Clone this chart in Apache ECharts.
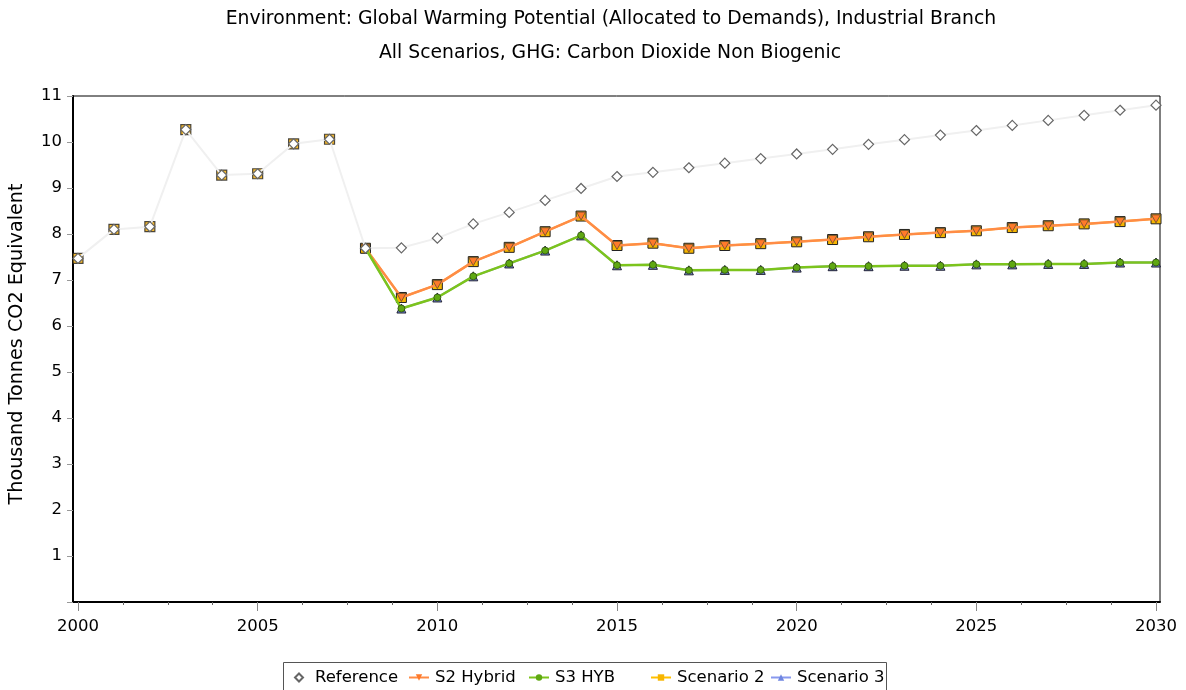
<!DOCTYPE html>
<html>
<head>
<meta charset="utf-8">
<script src="https://cdn.jsdelivr.net/npm/echarts@6/dist/echarts.min.js"></script>
<style>
html,body{margin:0;padding:0;background:#fff;}
#chart{width:1186px;height:690px;}
</style>
</head>
<body>
<div id="chart"></div>
<script>
var years = [2000,2001,2002,2003,2004,2005,2006,2007,2008,2009,2010,2011,2012,2013,2014,2015,2016,2017,2018,2019,2020,2021,2022,2023,2024,2025,2026,2027,2028,2029,2030];
var reference = [7.47,8.10,8.16,10.27,9.28,9.31,9.96,10.06,7.69,7.70,7.91,8.22,8.47,8.73,8.99,9.25,9.34,9.44,9.54,9.64,9.74,9.84,9.95,10.05,10.15,10.25,10.36,10.47,10.58,10.69,10.80];
// scenario series start in 2008
var scenYears = [2008,2009,2010,2011,2012,2013,2014,2015,2016,2017,2018,2019,2020,2021,2022,2023,2024,2025,2026,2027,2028,2029,2030];
var s2Hybrid = [7.69,6.62,6.90,7.40,7.71,8.05,8.39,7.75,7.80,7.69,7.75,7.79,7.83,7.88,7.94,7.99,8.03,8.07,8.14,8.18,8.22,8.27,8.33];
var s3Hyb = [7.69,6.38,6.62,7.08,7.36,7.64,7.97,7.32,7.33,7.21,7.22,7.22,7.27,7.30,7.30,7.31,7.31,7.34,7.34,7.35,7.35,7.38,7.38];
var scenario2 = [7.69,6.62,6.90,7.40,7.71,8.05,8.39,7.75,7.80,7.69,7.75,7.79,7.83,7.88,7.94,7.99,8.03,8.07,8.14,8.18,8.22,8.27,8.33];
var scenario3 = [7.69,6.38,6.62,7.08,7.36,7.64,7.97,7.32,7.33,7.21,7.22,7.22,7.27,7.30,7.30,7.31,7.31,7.34,7.34,7.35,7.35,7.38,7.38];
var xTickLabels = [2000,2005,2010,2015,2020,2025,2030];
var yTickLabels = [1,2,3,4,5,6,7,8,9,10,11];
var legendNames = ['Reference','S2 Hybrid','S3 HYB','Scenario 2','Scenario 3'];
var titleLines = ['Environment: Global Warming Potential (Allocated to Demands), Industrial Branch','All Scenarios, GHG: Carbon Dioxide Non Biogenic'];
var yName = 'Thousand Tonnes CO2 Equivalent';

var FONT = 'DejaVu Sans';
function pairs(xs, ys){ return xs.map(function(x,i){ return [x, ys[i]]; }); }
var minorTicks = [];
for (var k = 0; k < xTickLabels.length - 1; k++) {
  for (var m = 1; m < 4; m++) minorTicks.push(xTickLabels[k] + m * 1.25);
}
var baseCount = scenYears[0] - years[0];

var legendLefts = [294, 408, 528, 650, 770];
var legends = legendNames.map(function(n, i){
  return {
    left: legendLefts[i], top: 669, padding: 0, itemGap: 0,
    itemWidth: i === 0 ? 8 : 20, itemHeight: i === 0 ? 8 : 8,
    textStyle: {fontFamily: FONT, fontSize: 16.5, color: '#000', padding: [0, 0, 0, i === 0 ? 7 : 1]},
    data: [i === 0 ? {name: n, icon: 'diamond'} : {name: n, itemStyle: {borderWidth: 0}}]
  };
});

var chart = echarts.init(document.getElementById('chart'));
chart.setOption({
  animation: false,
  backgroundColor: '#fff',
  graphic: [
    {type:'text', x: 611, y: 19, style:{text: titleLines[0], font: '18.8px "' + FONT + '"', fill:'#000', textAlign:'center', textVerticalAlign:'middle'}},
    {type:'text', x: 610, y: 53, style:{text: titleLines[1], font: '18.8px "' + FONT + '"', fill:'#000', textAlign:'center', textVerticalAlign:'middle'}},
    {type:'rect', shape:{x: 283.5, y: 662.5, width: 603, height: 40}, style:{fill:'none', stroke:'#555', lineWidth:1}, silent: true}
  ],
  grid: {left: 73, right: 26, top: 96, bottom: 88, outerBoundsMode: 'none', containLabel: false, show: true, borderColor: '#000', borderWidth: 1, backgroundColor: 'transparent'},
  legend: legends,
  xAxis: [{
    type: 'value', min: 1999.861, max: 2030.111,
    axisLine: {show: true, lineStyle: {color: '#000', width: 2}},
    axisTick: {show: true, customValues: xTickLabels, length: 9, lineStyle: {color: '#888'}},
    axisLabel: {customValues: xTickLabels, fontFamily: FONT, fontSize: 16.5, color: '#000', margin: 16, formatter: function(v){ return String(v); }},
    splitLine: {show: false}
  }, {
    type: 'value', min: 1999.861, max: 2030.111, position: 'bottom',
    axisLine: {show: false},
    axisTick: {show: true, customValues: minorTicks, length: 3, lineStyle: {color: '#666'}},
    axisLabel: {show: false},
    splitLine: {show: false}
  }],
  yAxis: {
    type: 'value', min: 0, max: 11, interval: 1,
    name: yName, nameLocation: 'middle', nameGap: 46, nameRotate: 90,
    nameTextStyle: {fontFamily: FONT, fontSize: 19.2, color: '#000', padding: [0, 0, 0, 10]},
    axisLine: {show: true, lineStyle: {color: '#000', width: 2}},
    axisTick: {show: true, length: 6, lineStyle: {color: '#999'}},
    axisLabel: {fontFamily: FONT, fontSize: 16.5, color: '#000', margin: 11,
      formatter: function(v){ return yTickLabels.indexOf(v) >= 0 ? String(v) : ''; }},
    splitLine: {show: false}
  },
  series: [
    {
      name: 'Scenario 3', type: 'line', data: pairs(scenYears, scenario3), z: 2,
      symbol: 'triangle', symbolSize: 9,
      lineStyle: {color: '#8899ee', width: 2},
      itemStyle: {color: '#6f86e0', borderColor: '#223', borderWidth: 1}
    },
    {
      name: 'Scenario 2', type: 'line', data: pairs(scenYears, scenario2), z: 2,
      symbol: 'rect', symbolSize: 10,
      lineStyle: {color: '#ffc000', width: 2},
      itemStyle: {color: '#f7b500', borderColor: '#222', borderWidth: 1}
    },
    {
      name: 'S2 Hybrid', type: 'line', data: pairs(scenYears, s2Hybrid), z: 3,
      symbol: 'path://M0,0 L10,0 L5,9 Z', symbolSize: [9, 8],
      lineStyle: {color: '#ff8c46', width: 2.5},
      itemStyle: {color: '#ff7a2a', borderColor: '#333', borderWidth: 0.6}
    },
    {
      name: 'S3 HYB', type: 'line', data: pairs(scenYears, s3Hyb), z: 3,
      symbol: 'circle', symbolSize: 7,
      lineStyle: {color: '#7cc41c', width: 2.5},
      itemStyle: {color: '#5fa812', borderColor: '#2d4d10', borderWidth: 0.8}
    },
    {
      name: 'base', type: 'scatter', data: pairs(years.slice(0, baseCount), reference.slice(0, baseCount)), z: 2,
      symbol: 'rect', symbolSize: 10, silent: true,
      itemStyle: {color: '#f0a800', borderColor: '#222', borderWidth: 1.2}
    },
    {
      name: 'Reference', type: 'line', data: pairs(years, reference), z: 4,
      symbol: 'diamond', symbolSize: 10,
      lineStyle: {color: '#f0f0f0', width: 2},
      itemStyle: {color: '#ffffff', borderColor: '#666', borderWidth: 1.2}
    }
  ]
});
</script>
</body>
</html>
